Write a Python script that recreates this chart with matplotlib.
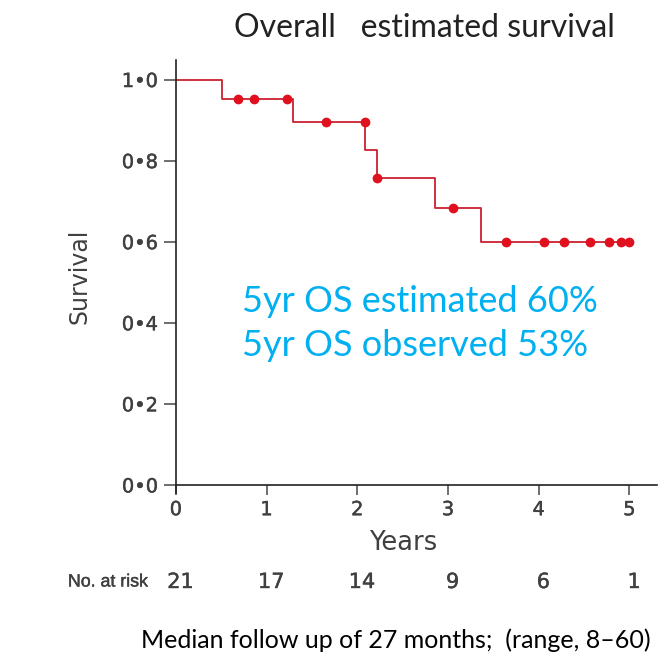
import matplotlib.pyplot as plt
import matplotlib.patheffects as pe

# Kaplan-Meier step curve
step_years = [0, 0.51, 1.29, 2.08, 2.22, 2.86, 3.36, 5.0]
step_surv = [1.0, 0.952, 0.894, 0.826, 0.757, 0.682, 0.598, 0.598]

# censored observations
censor_years = [0.69, 0.86, 1.22, 1.65, 2.08, 2.22, 3.06, 3.64, 4.06, 4.28, 4.57, 4.78, 4.91, 5.0]
censor_surv = [0.952, 0.952, 0.952, 0.894, 0.894, 0.757, 0.682,
               0.598, 0.598, 0.598, 0.598, 0.598, 0.598, 0.598]

year_ticks = [0, 1, 2, 3, 4, 5]
surv_ticks = [0.0, 0.2, 0.4, 0.6, 0.8, 1.0]
surv_labels = ['0•0', '0•2', '0•4', '0•6', '0•8', '1•0']
at_risk = [21, 17, 14, 9, 6, 1]

gray = '#404040'
red = '#e0101e'
blue = '#00b0f0'
sans = 'DejaVu Sans'
thick = [pe.withStroke(linewidth=0.3, foreground=gray)]

fig = plt.figure(figsize=(6.66, 6.6), dpi=100)
ax = fig.add_axes([0.264, 0.253, 0.722, 0.656])

ax.step(step_years, step_surv, where='post', color='#cc2030', lw=1.3)
ax.plot(censor_years, censor_surv, 'o', color=red, ms=6, mec=red)

ax.set_xlim(0, 5.3)
ax.set_ylim(-0.02, 1.048)
ax.spines['bottom'].set_position(('data', 0))
for s in ['top', 'right']:
    ax.spines[s].set_visible(False)
for s in ['left', 'bottom']:
    ax.spines[s].set_color('#222222')
    ax.spines[s].set_linewidth(1.2)

ax.set_xticks(year_ticks)
ax.set_xticklabels([str(t) for t in year_ticks], fontsize=14, color=gray, family=sans)
ax.set_yticks(surv_ticks)
ax.set_yticklabels(surv_labels, fontsize=14, color=gray, family=sans)
for lbl in ax.get_xticklabels() + ax.get_yticklabels():
    lbl.set_path_effects(thick)
ax.tick_params(axis='y', length=9, width=1.2, color='#555555', pad=4)
ax.tick_params(axis='x', length=7, width=1.2, color='#555555', pad=4)

ax.set_xlabel('Years', fontsize=18.5, color=gray, family=sans)
ax.xaxis.set_label_coords(2.5 / 5.3, -0.085)
ax.set_ylabel('Survival', fontsize=17, color=gray, family=sans)
ax.yaxis.set_label_coords(-0.175, 0.5)

fig.text(0.638, 1 - 37 / 660, 'Overall   estimated survival', ha='center', va='baseline',
         fontsize=23, color='#222222', family='Lato')

fig.text(0.363, 1 - 312 / 660, '5yr OS estimated 60%',
         fontsize=26, color=blue, family='Lato', va='baseline')
fig.text(0.363, 1 - 356 / 660, '5yr OS observed 53%',
         fontsize=26, color=blue, family='Lato', va='baseline')

# numbers at risk row
risk_y = 1 - 582 / 660
fig.text(0.102, risk_y, 'No. at risk', fontsize=12.8, color=gray,
         family='Liberation Sans', va='center', path_effects=thick)
for yr, n in zip(year_ticks, at_risk):
    xf = fig.transFigure.inverted().transform(ax.transData.transform((yr, 0)))[0]
    fig.text(xf + 0.007, risk_y, str(n), fontsize=15, color=gray,
             family=sans, ha='center', va='center', path_effects=thick)

fig.text(0.595, 1 - 648 / 660, 'Median follow up of 27 months;  (range, 8\u201360)',
         ha='center', va='baseline', fontsize=18, color='black', family='Lato')

fig.savefig('out.png', dpi=100)
